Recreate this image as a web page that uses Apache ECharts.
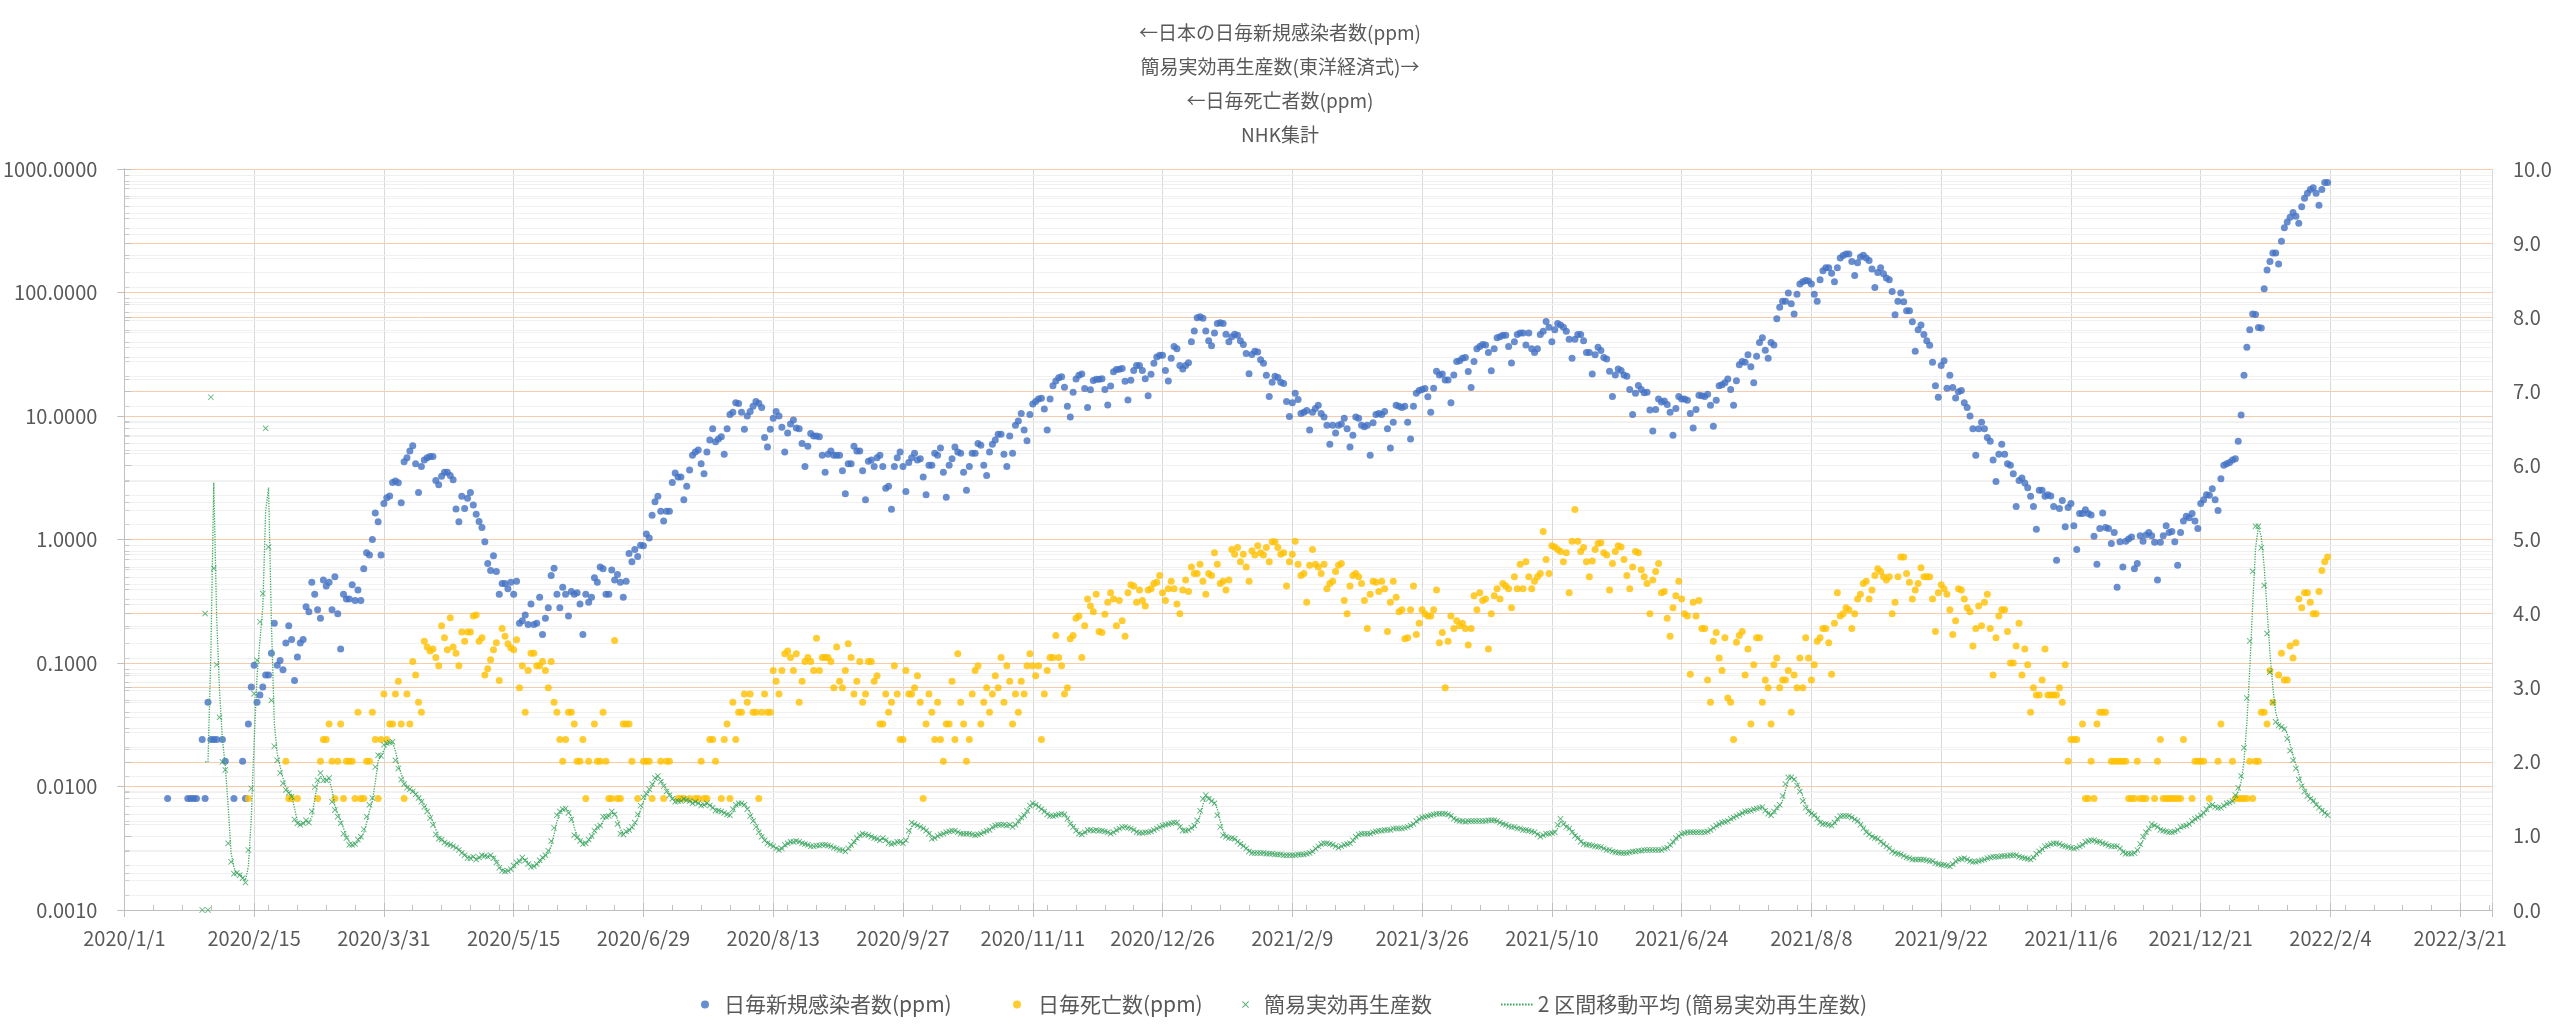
<!DOCTYPE html>
<html><head><meta charset="utf-8">
<script src="https://cdn.jsdelivr.net/npm/echarts@6/dist/echarts.min.js"></script>
<style>html,body{margin:0;padding:0;background:#fff}#chart{width:2560px;height:1030px}</style>
</head><body><div id="chart"></div>
<script>
// ---------------- DATA ----------------
// x = days since 2020/1/1
const TITLE_LINES = ['←日本の日毎新規感染者数(ppm)', '簡易実効再生産数(東洋経済式)→', '←日毎死亡者数(ppm)', 'NHK集計'];
const SERIES_NAMES = ['日毎新規感染者数(ppm)', '日毎死亡数(ppm)', '簡易実効再生産数', '2 区間移動平均 (簡易実効再生産数)'];

// daily new cases per million, first value = 2020/1/16 (day 15); null = no cases
const CASES_FIRST_DAY = 15;
const casesPpm = [
.008,null,null,null,null,null,null,.008,.008,.008,
.008,null,.024,.008,.048,.024,.024,.024,null,.024,
.016,null,null,.008,null,null,.016,.008,.032,.064,
.096,.048,.055,.064,.080,.080,.12,.21,.096,.105,
.088,.145,.20,.155,.072,.112,.145,.155,.285,.26,
.45,.36,.27,.23,.47,.42,.45,.27,.50,.25,
.13,.36,.33,.33,.43,.32,.39,.32,.58,.78,
.75,1.0,1.64,1.39,.75,1.96,2.18,2.25,2.9,2.97,
2.88,1.98,4.26,4.6,5.2,5.75,4.1,2.4,3.9,4.4,
4.6,4.7,4.7,3.0,2.77,3.25,3.5,3.5,3.3,3.05,
1.77,1.39,2.24,1.78,2.16,2.4,1.9,1.6,1.4,1.25,
.96,.64,.56,.74,.55,.36,.44,.44,.40,.45,
.36,.46,.21,.22,.245,.205,.30,.205,.21,.34,
.17,.23,.28,.51,.585,.36,.28,.41,.36,.24,
.38,.36,.37,.30,.17,.36,.31,.34,.49,.45,
.6,.58,.36,.36,.565,.47,.52,.45,.34,.46,
.77,.66,.83,.73,.90,.89,1.11,1.03,1.57,2.02,
2.24,1.69,1.41,1.69,1.69,2.9,3.45,3.2,3.2,2.1,
2.7,3.66,4.8,5.1,5.3,4.1,3.4,5.1,6.4,7.9,
6.2,6.5,6.8,4.9,7.9,10.3,10.7,12.8,12.6,10.7,
7.8,10,10.9,12.0,13.1,12.7,11.7,6.7,5.6,7.8,
9.6,10.9,10.0,8.1,5.1,7.3,8.6,9.3,8.0,7.9,
6.0,3.9,5.7,7.2,6.9,6.9,6.8,4.8,3.5,4.9,
5.2,4.8,4.8,4.8,3.6,2.35,4.1,4.1,5.7,5.2,
5.2,3.6,2.1,4.3,4.4,3.9,4.6,4.8,3.9,2.6,
2.7,1.76,3.9,4.6,5.1,3.9,2.45,4.2,4.6,5.0,
4.4,4.5,3.2,2.3,4.0,4.0,5.0,4.8,5.5,3.5,
2.2,4.0,4.5,5.6,5.1,5.0,3.5,2.5,3.9,5.0,
5.0,6.0,5.8,4.0,3.3,5.1,5.9,6.4,7.1,7.1,
4.9,3.9,6.9,5.0,8.4,9.1,10.5,7.7,6.3,10.3,
12.5,13.1,13.7,13.9,11.4,7.7,13.7,17.6,19.2,20.4,
20.8,17.1,12,9.8,15.6,19.9,21.4,21.9,16.7,11.7,
16.3,19.4,19.8,19.8,20,16.4,12.3,17.5,22.8,23.8,
23.9,24.2,19.1,13.5,19.5,23.4,25.6,25.6,23.4,20,
14.6,21.8,26.8,30,31,31,23.4,19.2,29.3,36.6,
35,25.6,24,25.6,27,40,48.7,62.4,63.5,62,
48.7,40.6,37,47,56,57,56,46,40,43.8,
46,45,40.7,38,32,22,31.5,33.5,33,28.5,
26.8,21.4,14.4,18.8,21,20.5,18.8,18.3,13.1,9.9,
12.8,15.3,13.6,10.5,10.7,11.1,7.7,10.7,11.5,12.2,
10.5,9.8,8.4,5.9,8.4,7.3,8.4,8.6,9.6,7.9,
5.6,7.0,9.8,9.6,8.4,8.2,8.4,4.8,8.8,10.3,
10.5,10.3,10.9,7.9,5.5,8.9,12.2,12,11.7,12,
8.9,6.5,12,15.3,16.1,16.4,16.7,14.3,10.7,16.8,
23,21.5,21.9,19.6,19.6,12.8,21.5,27.6,28,29.3,
29.8,22.9,17,27.6,35,36.6,38,37.5,32.7,23.3,
35,43,43.8,45,45,36.6,26.9,40,45.8,47,
47,37.6,47,35,32.7,35,45.8,48.6,58.2,52.4,
40,50,56,54.6,52.4,48.6,41.8,29.3,41.8,45.8,
45.8,40.7,32.7,32.7,21.9,31.4,36,33.9,29.8,29,
23,14.4,21.5,24,23.4,21.5,21,16.4,10.3,15.3,
17.7,16.4,15.4,15.6,11.2,7.55,11.3,13.7,13,13.2,
12.4,10.7,7.0,11.5,14.4,13.7,13.7,13.4,10.5,8.0,
11.3,14.7,14.6,14.4,15,12.2,8.25,13.4,17.6,17.9,
18.6,19.9,16.4,12.2,19.3,26,27.6,27.3,31.4,25,
18.6,30.4,39.3,43,34,29.3,39.3,37.6,61.4,76,
85,85,99,81,67,97,117,122,125,124,
117,97,85,127,150,159,159,143,122,159,
190,199,205,205,178,137,174,194,200,190,
182,155,110,145,159,142,131,127,102,66,
85,99,84,71,71,58,33.5,50,54.6,45.8,
40.7,37.4,27.2,17.6,14.2,25.6,28,16.8,21.4,17,
14,15.7,16.1,12.8,11.7,10,7.9,4.8,7.9,8.9,
7.9,6.7,6.25,4.4,2.95,4.9,5.9,4.9,4.1,4.0,
3.4,1.85,3.0,3.15,2.87,2.63,2.24,1.85,1.21,2.5,
2.5,2.24,2.3,2.25,1.85,0.68,1.78,2.07,1.27,1.82,
1.96,1.29,0.83,1.62,1.62,1.74,1.62,1.58,1.06,0.63,
1.23,1.64,1.25,1.23,0.93,1.14,0.41,0.96,0.6,0.97,
1.01,1.05,0.58,0.64,1.07,0.97,1.09,1.14,1.07,0.95,
0.47,0.95,1.07,1.29,1.14,1.16,0.96,0.62,1.14,1.41,
1.54,1.5,1.62,1.41,1.23,1.96,2.1,2.3,2.28,2.57,
2.1,1.72,3.1,4.0,4.1,4.2,4.4,4.5,6.25,10.2,
21.4,36,50,67,66.5,52,51.6,107,152,178,
209,209,170,260,334,372,407,445,414,363,
494,580,635,682,705,635,508,682,777,777
];

// daily deaths per million, first value = 2020/2/13 (day 43); null = no deaths
const DEATHS_FIRST_DAY = 43;
const deathsPpm = [
.008,null,null,null,null,null,null,null,null,null,
null,null,null,.016,.008,.008,null,.008,null,null,
null,null,null,null,.008,.016,.024,.024,.032,.016,
.008,.016,.032,.008,.016,.016,.016,.008,.040,.008,
.008,.016,.016,.040,.024,.008,.024,.056,.024,.032,
.032,.056,.071,.032,.008,.056,.032,.103,.08,.048,
.040,.15,.135,.125,.13,.111,.095,.2,.16,.128,
.233,.135,.12,.095,.178,.15,.178,.178,.24,.245,
.15,.16,.08,.09,.106,.128,.146,.072,.19,.165,
.143,.133,.128,.154,.063,.095,.04,.087,.12,.12,
.095,.095,.103,.087,.063,.103,.048,.04,.024,.016,
.024,.04,.04,.032,.016,.016,.024,.008,.016,null,
.032,.016,.016,.04,.016,.008,.008,.152,.008,.008,
.032,.032,.032,.016,null,.008,null,.016,.016,.016,
.008,null,null,.016,.008,.016,.016,null,null,.008,
.008,.008,null,.008,null,.008,.008,.016,.008,.008,
.024,.024,.016,null,.008,.024,.032,.008,.048,.024,
.040,.040,.056,.048,.056,.040,.040,.008,.040,.056,
.040,.040,.087,.071,.056,.087,.119,.125,.111,.087,
.119,.048,.071,.103,.111,.103,.087,.159,.087,.111,
.111,.111,.103,.063,.135,.071,.063,.087,.143,.111,
.056,.071,.103,.048,.056,.103,.103,.071,.079,.032,
.032,.056,.040,.048,.095,.056,.024,.024,.087,.056,
.056,.063,.079,.048,.008,.032,.056,.040,.024,.048,
.024,.016,.032,.032,.071,.024,.119,.048,.032,.016,
.024,.056,.087,.095,.032,.048,.063,.040,.056,.079,
.063,.111,.048,.095,.071,.032,.056,.040,.071,.056,
.095,.119,.095,.079,.095,.024,.056,.087,.111,.111,
.167,.111,.095,.056,.063,.157,.167,.23,.24,.111,
.2,.33,.29,.26,.36,.18,.177,.248,.31,.37,
.33,.2,.32,.22,.165,.37,.43,.42,.31,.39,
.32,.29,.39,.4,.44,.45,.51,.37,.32,.4,
.46,.4,.3,.25,.39,.47,.38,.6,.53,.53,
.63,.46,.36,.53,.51,.78,.63,.44,.46,.39,
.47,.83,.76,.86,.66,.76,.60,.46,.81,.75,
.89,.78,.75,.86,.66,.96,.96,.86,.76,.78,
.42,.66,.76,.97,.63,.51,.53,.31,.62,.83,
.63,.6,.53,.63,.4,.44,.46,.55,.62,.64,
.32,.25,.42,.51,.53,.5,.44,.32,.19,.36,
.46,.45,.38,.46,.4,.18,.31,.46,.34,.26,
.27,.157,.16,.27,.42,.17,.21,.27,.25,.24,
.24,.27,.39,.146,.177,.063,.15,.24,.19,.22,
.2,.21,.19,.14,.19,.35,.27,.37,.32,.33,
.13,.25,.35,.4,.33,.44,.42,.4,.28,.5,
.4,.63,.4,.66,.5,.4,.46,.5,.53,1.16,
.69,.53,.89,.87,.83,.8,.66,.78,.37,.97,
1.75,.97,.8,.86,.66,.5,.67,.83,.93,.94,
.78,.75,.39,.64,.8,.89,.87,.69,.51,.4,
.6,.8,.78,.57,.5,.44,.25,.47,.55,.64,
.37,.38,.23,.165,.28,.35,.46,.33,.25,.24,
.081,.31,.24,.32,.19,.19,.073,.048,.15,.177,
.11,.087,.16,.052,.048,.024,.147,.167,.18,.08,
.13,.032,.097,.16,.16,.048,.073,.063,.032,.097,
.11,.063,.073,.073,.087,.04,.08,.063,.11,.063,
.16,.11,.073,.097,.15,.16,.19,.19,.146,.081,
.21,.37,.24,.25,.28,.27,.19,.25,.33,.36,
.44,.46,.33,.39,.51,.58,.55,.5,.47,.5,
.25,.31,.5,.72,.72,.53,.45,.33,.39,.44,
.59,.5,.5,.5,.33,.18,.37,.43,.4,.36,
.27,.17,.22,.4,.39,.33,.28,.26,.137,.19,
.29,.2,.31,.36,.19,.08,.16,.24,.27,.27,
.18,.1,.1,.137,.21,.08,.13,.097,.04,.063,
.055,.055,.073,.13,.055,.055,.055,.055,.063,.048,
.097,.016,.024,.024,.024,null,.032,.008,.008,.016,
.008,.032,.040,.040,.040,null,.016,.016,.016,.016,
.016,.016,.008,.008,.008,.016,.008,.008,.008,null,
null,.008,.016,.024,.008,.008,.008,.008,.008,.008,
.008,.024,null,null,.008,.016,.016,.016,.016,null,
.008,null,null,.016,.032,null,null,null,.016,.008,
.008,.008,.008,.008,.016,.008,.016,.016,.040,.040,
.032,.087,.048,null,.08,.12,.073,.073,.137,.11,
.146,.33,.28,.37,.37,.31,.25,.25,.38,.56,
.66,.72
];

// simple effective reproduction number, first value = 2020/1/28 (day 27)
const R_FIRST_DAY = 27;
const rEffective = [
0,4.0,0,6.92,4.61,3.31,2.6,2.0,1.89,0.9,
0.65,0.49,0.5,0.47,0.43,0.37,0.81,1.64,2.92,3.37,
3.89,4.27,6.5,4.9,2.83,2.21,2.02,1.85,1.71,1.62,
1.58,1.53,1.22,1.17,1.15,1.17,1.21,1.18,1.33,1.66,
1.75,1.85,1.75,1.75,1.78,1.46,1.35,1.26,1.17,1.03,
0.97,0.88,0.88,0.89,0.95,0.99,1.09,1.26,1.42,1.51,
1.93,2.09,2.08,2.23,2.25,2.26,2.27,2.02,1.91,1.76,
1.70,1.65,1.63,1.60,1.56,1.51,1.46,1.39,1.33,1.24,
1.15,1.02,0.96,0.95,0.91,0.89,0.88,0.86,0.84,0.81,
0.77,0.74,0.70,0.70,0.72,0.68,0.71,0.74,0.73,0.72,
0.74,0.70,0.64,0.57,0.53,0.52,0.53,0.55,0.60,0.64,
0.66,0.71,0.67,0.62,0.58,0.59,0.62,0.67,0.71,0.74,
0.80,0.93,1.11,1.28,1.33,1.36,1.37,1.31,1.22,1.01,
0.98,0.93,0.89,0.90,0.95,1.0,1.07,1.12,1.14,1.26,
1.26,1.27,1.33,1.29,1.16,1.03,1.02,1.06,1.08,1.12,
1.18,1.29,1.41,1.52,1.57,1.63,1.70,1.78,1.81,1.73,
1.67,1.60,1.55,1.50,1.46,1.47,1.47,1.50,1.48,1.47,
1.44,1.46,1.44,1.41,1.42,1.44,1.41,1.38,1.34,1.34,
1.33,1.31,1.29,1.28,1.36,1.42,1.44,1.44,1.42,1.36,
1.27,1.20,1.12,1.05,0.99,0.94,0.90,0.88,0.86,0.83,
0.81,0.83,0.88,0.90,0.92,0.92,0.93,0.92,0.90,0.89,
0.88,0.86,0.86,0.87,0.87,0.88,0.88,0.87,0.86,0.84,
0.83,0.81,0.81,0.79,0.83,0.88,0.92,0.97,1.01,1.03,
1.02,1.01,0.99,0.97,0.96,0.94,0.97,0.94,0.90,0.89,
0.90,0.92,0.92,0.90,0.94,1.07,1.18,1.16,1.14,1.12,
1.10,1.07,1.03,0.96,0.97,1.0,1.02,1.03,1.05,1.06,
1.07,1.07,1.05,1.03,1.03,1.03,1.03,1.02,1.01,1.02,
1.03,1.05,1.07,1.08,1.12,1.14,1.15,1.15,1.15,1.14,
1.15,1.12,1.15,1.20,1.25,1.28,1.34,1.41,1.44,1.42,
1.39,1.36,1.33,1.29,1.27,1.27,1.28,1.29,1.30,1.29,
1.23,1.16,1.12,1.07,1.03,1.02,1.05,1.08,1.08,1.07,
1.08,1.07,1.07,1.06,1.05,1.03,1.05,1.08,1.10,1.12,
1.12,1.11,1.10,1.08,1.05,1.04,1.04,1.05,1.05,1.06,
1.08,1.10,1.12,1.14,1.15,1.16,1.17,1.18,1.18,1.12,
1.07,1.07,1.08,1.11,1.14,1.21,1.34,1.50,1.55,1.50,
1.47,1.44,1.28,1.12,1.01,0.99,0.97,0.97,0.96,0.92,
0.89,0.86,0.83,0.79,0.77,0.77,0.77,0.77,0.77,0.76,
0.76,0.76,0.75,0.75,0.75,0.74,0.74,0.74,0.74,0.74,
0.75,0.75,0.75,0.76,0.77,0.79,0.83,0.86,0.89,0.90,
0.90,0.89,0.88,0.86,0.84,0.86,0.88,0.89,0.90,0.94,
0.99,1.02,1.03,1.03,1.03,1.03,1.05,1.06,1.07,1.07,
1.08,1.08,1.08,1.10,1.10,1.10,1.10,1.11,1.12,1.14,
1.16,1.20,1.23,1.25,1.26,1.27,1.28,1.29,1.30,1.30,
1.30,1.30,1.29,1.27,1.23,1.21,1.20,1.20,1.19,1.20,
1.20,1.20,1.20,1.20,1.20,1.20,1.21,1.21,1.21,1.20,
1.18,1.16,1.15,1.13,1.12,1.12,1.10,1.10,1.08,1.08,
1.07,1.06,1.05,1.02,0.99,1.01,1.03,1.03,1.04,1.05,
1.15,1.23,1.16,1.12,1.10,1.05,1.0,0.97,0.92,0.89,
0.88,0.88,0.87,0.86,0.855,0.85,0.83,0.81,0.81,0.79,
0.78,0.775,0.77,0.77,0.77,0.78,0.79,0.79,0.80,0.80,
0.81,0.81,0.81,0.81,0.81,0.81,0.81,0.83,0.84,0.88,
0.92,0.97,1.0,1.03,1.04,1.05,1.05,1.05,1.05,1.05,
1.05,1.05,1.06,1.08,1.11,1.14,1.16,1.18,1.19,1.20,
1.23,1.25,1.27,1.29,1.31,1.33,1.335,1.34,1.36,1.37,
1.38,1.39,1.34,1.30,1.28,1.33,1.38,1.42,1.54,1.70,
1.79,1.79,1.76,1.68,1.60,1.47,1.38,1.33,1.30,1.28,
1.23,1.18,1.16,1.16,1.15,1.14,1.18,1.23,1.27,1.27,
1.27,1.27,1.25,1.22,1.20,1.15,1.10,1.05,1.02,0.99,
0.97,0.96,0.92,0.89,0.86,0.83,0.79,0.77,0.76,0.75,
0.73,0.71,0.70,0.68,0.68,0.68,0.68,0.68,0.67,0.66,
0.66,0.63,0.62,0.61,0.61,0.60,0.59,0.62,0.66,0.68,
0.69,0.70,0.68,0.66,0.65,0.65,0.66,0.67,0.68,0.70,
0.71,0.72,0.72,0.72,0.73,0.73,0.73,0.74,0.74,0.74,
0.72,0.71,0.70,0.69,0.68,0.71,0.76,0.79,0.82,0.86,
0.87,0.89,0.90,0.90,0.89,0.87,0.86,0.85,0.84,0.83,
0.84,0.86,0.88,0.92,0.93,0.94,0.94,0.92,0.92,0.90,
0.89,0.87,0.86,0.86,0.86,0.83,0.78,0.76,0.76,0.76,
0.77,0.81,0.89,0.99,1.05,1.10,1.16,1.14,1.12,1.08,
1.07,1.06,1.05,1.05,1.06,1.08,1.12,1.13,1.14,1.16,
1.20,1.23,1.25,1.28,1.31,1.36,1.41,1.42,1.39,1.38,
1.38,1.41,1.44,1.45,1.47,1.55,1.65,1.81,2.19,2.86,
3.63,4.57,5.18,5.18,4.89,4.38,3.73,3.21,2.80,2.54,
2.49,2.47,2.44,2.31,2.15,2.02,1.91,1.76,1.67,1.60,
1.54,1.50,1.47,1.42,1.38,1.34,1.31,1.28
];

// ---------------- CHART ----------------
const FONT = "'Noto Sans CJK JP','Noto Sans',sans-serif";
const TXT = '#595959';
const PEACH = '#F8CBAD';
const AXIS_ORIGIN = Date.UTC(2020, 0, 1);
function dayLabel(d) {
  const t = new Date(AXIS_ORIGIN + d * 86400000);
  return t.getUTCFullYear() + '/' + (t.getUTCMonth() + 1) + '/' + t.getUTCDate();
}
function toPoints(arr, first) {
  const out = [];
  arr.forEach((v, i) => { if (v !== null) out.push([first + i, v]); });
  return out;
}
const maPoints = [];
for (let i = 1; i < rEffective.length; i++) maPoints.push([R_FIRST_DAY + i, (rEffective[i - 1] + rEffective[i]) / 2]);

const logMinor = [];
for (let e = -3; e < 3; e++) for (let m = 2; m < 10; m++) logMinor.push([0, m * Math.pow(10, e)]);

const CROSS = 'path://M0,1L1,0L5,4L9,0L10,1L6,5L10,9L9,10L5,6L1,10L0,9L4,5Z';
let dots = '';
for (let i = 0; i < 11; i++) dots += 'M' + (i * 3) + ',0h1.6v2h-1.6z';
const DOTTED_ICON = 'path://' + dots;
const BLUE = '#4472C4', GOLD = '#FFC000', GREEN = '#2E9E55', GREEN2 = '#3BAA60';

const chart = echarts.init(document.getElementById('chart'), null, { renderer: 'canvas' });
const legendText = { fontFamily: FONT, fontSize: 21, color: TXT };
chart.setOption({
  animation: false,
  backgroundColor: '#fff',
  textStyle: { fontFamily: FONT },
  title: {
    text: TITLE_LINES.join('\n'), left: 'center', top: 11,
    textStyle: { fontFamily: FONT, fontSize: 19, fontWeight: 'normal', color: TXT, lineHeight: 34 }
  },
  legend: [
    { data: [{ name: SERIES_NAMES[0], icon: 'circle' }], left: 696, top: 989, itemWidth: 10, itemHeight: 8, textStyle: Object.assign({ padding: [0, 0, 0, 9] }, legendText) },
    { data: [{ name: SERIES_NAMES[1], icon: 'circle' }], left: 1008, top: 989, itemWidth: 10, itemHeight: 8, textStyle: Object.assign({ padding: [0, 0, 0, 11] }, legendText) },
    { data: [{ name: SERIES_NAMES[2], icon: CROSS }], left: 1237, top: 989, itemWidth: 7, itemHeight: 7, textStyle: Object.assign({ padding: [0, 0, 0, 10] }, legendText) },
    { data: [{ name: SERIES_NAMES[3], icon: DOTTED_ICON }], left: 1496, top: 989, itemWidth: 32, itemHeight: 2, textStyle: Object.assign({ padding: [0, 0, 0, 0] }, legendText) }
  ],
  grid: { left: 124, right: 68, top: 169, bottom: 120, containLabel: false },
  xAxis: [
    {
      type: 'value', min: 0, max: 821, interval: 45, position: 'bottom',
      axisLine: { onZero: false, lineStyle: { color: '#BFBFBF' } },
      axisTick: { length: 7, lineStyle: { color: '#BFBFBF' } },
      axisLabel: { interval: 0, margin: 18, fontSize: 20, color: TXT, fontFamily: FONT, formatter: v => (v % 45 === 0 ? dayLabel(v) : '') },
      splitLine: { show: true, lineStyle: { color: '#D9D9D9' } }
    },
    {
      type: 'value', min: 0, max: 821, interval: 10, position: 'bottom',
      axisLine: { show: false, onZero: false }, axisLabel: { show: false }, splitLine: { show: false },
      axisTick: { show: true, inside: true, length: 5, lineStyle: { color: '#BFBFBF' } }
    },
    {
      type: 'value', min: 0, max: 821, interval: 45, position: 'bottom',
      axisLine: { show: false, onZero: false }, axisLabel: { show: false }, splitLine: { show: false },
      axisTick: { show: true, inside: true, length: 7, lineStyle: { color: '#BFBFBF' } }
    }
  ],
  yAxis: [
    {
      type: 'log', logBase: 10, min: 0.001, max: 1000, position: 'left',
      axisLine: { show: true, lineStyle: { color: '#BFBFBF' } },
      axisTick: { show: true, length: 7, lineStyle: { color: '#BFBFBF' } },
      axisLabel: { margin: 27, fontSize: 20, color: TXT, fontFamily: FONT, formatter: v => Number(v).toFixed(4) },
      splitLine: { show: true, lineStyle: { color: PEACH } }
    },
    {
      type: 'value', min: 0, max: 10, interval: 1, position: 'right',
      axisLine: { show: true, lineStyle: { color: '#BFBFBF' } },
      axisTick: { show: true, length: 7, lineStyle: { color: '#BFBFBF' } },
      minorTick: { show: true, splitNumber: 5, length: 5, lineStyle: { color: '#D0D0D0' } },
      minorSplitLine: { show: true, lineStyle: { color: '#F2F2F2' } },
      axisLabel: { margin: 21, fontSize: 20, color: TXT, fontFamily: FONT, formatter: v => Number(v).toFixed(1) },
      splitLine: { show: true, lineStyle: { color: PEACH } }
    }
  ],
  series: [
    {
      type: 'custom', name: 'logMinorGrid', xAxisIndex: 0, yAxisIndex: 0, silent: true, z: 0, clip: false,
      data: logMinor,
      renderItem: function (params, api) {
        const cs = params.coordSys;
        const y = Math.round(api.coord([0, api.value(1)])[1]) + 0.5;
        return {
          type: 'group', children: [
            { type: 'line', shape: { x1: cs.x, y1: y, x2: cs.x + cs.width, y2: y }, style: { stroke: '#F0F0F0', lineWidth: 1 } },
            { type: 'line', shape: { x1: cs.x, y1: y, x2: cs.x + 5, y2: y }, style: { stroke: '#C8C8C8', lineWidth: 1 } }
          ]
        };
      }
    },
    {
      name: SERIES_NAMES[0], type: 'scatter', yAxisIndex: 0, symbol: 'circle', symbolSize: 7, z: 3,
      itemStyle: { color: BLUE }, data: toPoints(casesPpm, CASES_FIRST_DAY)
    },
    {
      name: SERIES_NAMES[1], type: 'scatter', yAxisIndex: 0, symbol: 'circle', symbolSize: 7, z: 3,
      itemStyle: { color: GOLD }, data: toPoints(deathsPpm, DEATHS_FIRST_DAY)
    },
    {
      name: SERIES_NAMES[2], type: 'scatter', yAxisIndex: 1, symbol: CROSS, symbolSize: 6, z: 4,
      itemStyle: { color: GREEN }, data: toPoints(rEffective, R_FIRST_DAY)
    },
    {
      name: SERIES_NAMES[3], type: 'line', yAxisIndex: 1, showSymbol: false, symbol: 'none', z: 5,
      lineStyle: { color: GREEN2, width: 1.3, type: 'dotted' }, itemStyle: { color: GREEN2 },
      data: maPoints
    }
  ]
});
</script>
</body></html>
